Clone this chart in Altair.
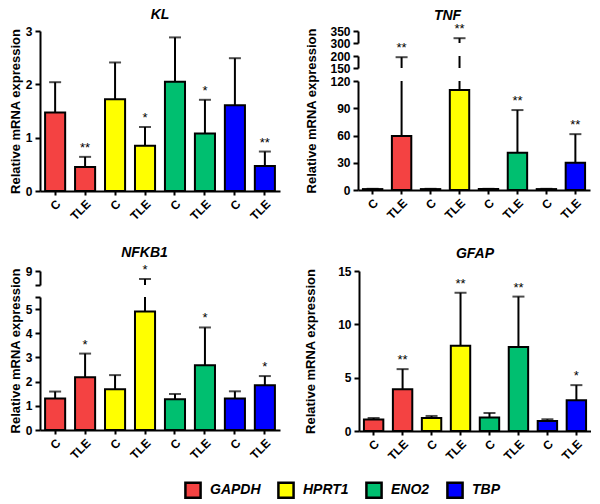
import altair as alt
import pandas as pd

# ---------------- data ----------------
genes = ["GAPDH", "HPRT1", "ENO2", "TBP"]
groups = ["C", "TLE"]
gene_colors = ["#F44242", "#FFFF00", "#00BF70", "#0000FF"]

kl_mean = [1.47, 0.45, 1.72, 0.85, 2.05, 1.08, 1.61, 0.47]
kl_upper = [2.04, 0.64, 2.41, 1.20, 2.88, 1.71, 2.49, 0.74]
kl_sig = ["", "**", "", "*", "", "*", "", "**"]

tnf_mean = [1.0, 59.5, 1.0, 110.0, 1.0, 41.0, 1.0, 30.0]
tnf_upper = [1.3, 195.0, 1.3, 320.0, 1.3, 88.0, 1.3, 61.5]
tnf_sig = ["", "**", "", "**", "", "**", "", "**"]

nfkb1_mean = [1.30, 2.18, 1.69, 4.90, 1.27, 2.68, 1.30, 1.85]
nfkb1_upper = [1.59, 3.16, 2.27, 8.43, 1.49, 4.24, 1.60, 2.23]
nfkb1_sig = ["", "*", "", "*", "", "*", "", "*"]

gfap_mean = [1.07, 3.92, 1.22, 8.00, 1.26, 7.88, 0.94, 2.89]
gfap_upper = [1.22, 5.80, 1.41, 12.96, 1.69, 12.60, 1.10, 4.30]
gfap_sig = ["", "**", "", "**", "", "**", "", "*"]

keys = [f"{g} {grp}" for g in genes for grp in groups]

FONT = "Liberation Sans"
Y_TITLE = "Relative mRNA expression"
LEFT_W = 240
RIGHT_W = 232


def make_df(mean, upper, sig):
    rows = []
    i = 0
    for g in genes:
        for grp in groups:
            rows.append({"key": f"{g} {grp}", "gene": g, "group": grp,
                         "mean": mean[i], "upper": upper[i], "sig": sig[i]})
            i += 1
    return pd.DataFrame(rows)


color_enc = alt.Color(
    "gene:N",
    scale=alt.Scale(domain=genes, range=gene_colors),
    legend=alt.Legend(
        orient="none", legendX=144, legendY=450, direction="horizontal",
        title=None, symbolType="square", symbolSize=230,
        symbolStrokeColor="black", symbolStrokeWidth=2.5, symbolOpacity=1,
        labelFont=FONT, labelFontSize=14, labelFontStyle="italic",
        labelFontWeight="bold", labelColor="black", labelOffset=8,
        columnPadding=12,
    ),
)


def segment(df, lo, hi, h, w, tick_vals, label_expr, show_x, title_x, title_y):
    if show_x:
        x_axis = alt.Axis(labelExpr="split(datum.label, ' ')[1]", labelAngle=-45,
                          title=None, tickSize=4, labelPadding=3)
    else:
        x_axis = None
    x = alt.X("key:N", sort=keys,
              scale=alt.Scale(domain=keys, paddingInner=0.33, paddingOuter=0.17),
              axis=x_axis)
    yscale = alt.Scale(domain=[lo, hi], nice=False, zero=False)
    axis_kw = dict(values=tick_vals, labelExpr=label_expr, tickSize=5, format=".0f",
                   labelPadding=3, labelOverlap=False)
    if title_x is not None:
        axis_kw["title"] = Y_TITLE
        axis_kw["titleX"] = title_x
        axis_kw["titleBaseline"] = "middle"
        axis_kw["titleAlign"] = "center"
        axis_kw["titleAngle"] = 270
        if title_y is not None:
            axis_kw["titleY"] = title_y
    else:
        axis_kw["title"] = None
    y_axis = alt.Axis(**axis_kw)

    base = alt.Chart(df)
    bars = base.mark_bar(stroke="black", strokeWidth=2, clip=True).encode(
        x=x,
        y=alt.Y("mean:Q", scale=yscale, axis=y_axis),
        y2=alt.datum(0),
        color=color_enc,
    )
    err = base.mark_rule(color="black", strokeWidth=2, clip=True).encode(
        x=x, y=alt.Y("mean:Q", scale=yscale, axis=y_axis), y2="upper:Q"
    )
    inside = f"datum.upper >= {lo} && datum.upper <= {hi}"
    cap = base.transform_filter(inside).mark_tick(
        color="black", thickness=2, size=12, clip=True
    ).encode(x=x, y=alt.Y("upper:Q", scale=yscale, axis=y_axis))
    stars = base.transform_filter(inside).mark_text(
        baseline="bottom", dy=-2, fontSize=13, font=FONT, color="black"
    ).encode(x=x, y=alt.Y("upper:Q", scale=yscale, axis=y_axis), text="sig:N")
    return alt.layer(bars, err, cap, stars).properties(width=w, height=h)


def title(text, offset):
    return alt.Title(text, font=FONT, fontSize=14, fontStyle="italic",
                     fontWeight="bold", color="black", offset=offset, anchor="middle")


kl_df = make_df(kl_mean, kl_upper, kl_sig)
tnf_df = make_df(tnf_mean, tnf_upper, tnf_sig)
nfkb1_df = make_df(nfkb1_mean, nfkb1_upper, nfkb1_sig)
gfap_df = make_df(gfap_mean, gfap_upper, gfap_sig)

kl = segment(kl_df, 0, 3, 160, LEFT_W, [0, 1, 2, 3], "datum.label", True,
             -25, None).properties(title=title("KL", 0))

tnf = alt.vconcat(
    segment(tnf_df, 300, 350, 12, RIGHT_W, [300, 350], "datum.label", False, None, None),
    segment(tnf_df, 150, 200, 12, RIGHT_W, [150, 200], "datum.label", False, None, None),
    segment(tnf_df, 0, 120, 109, RIGHT_W, [0, 30, 60, 90, 120], "datum.label", True,
            -47, 29.5),
    spacing=13, title=title("TNF", 0), bounds="flush",
)

nfkb1 = alt.vconcat(
    segment(nfkb1_df, 8, 9, 14, LEFT_W, [8, 9], "datum.value == 8 ? '' : datum.label",
            False, None, None),
    segment(nfkb1_df, 0, 5.5, 133, LEFT_W, [0, 1, 2, 3, 4, 5, 5.5],
            "datum.value == 5.5 ? '' : datum.label", True, -25, 53.5),
    spacing=12, title=title("NFKB1", 4), bounds="flush",
)

gfap = segment(gfap_df, 0, 15, 160, RIGHT_W, [0, 5, 10, 15], "datum.label", True,
               -49, None).properties(title=title("GFAP", 4))

chart = alt.vconcat(
    alt.hconcat(kl, tnf, spacing=24),
    alt.hconcat(nfkb1, gfap, spacing=24),
    spacing=23,
).resolve_scale(color="shared").properties(
    padding={"left": 0, "top": 0, "right": 0, "bottom": 0}
).configure_view(strokeWidth=0).configure_axis(
    domainColor="black", domainWidth=2, tickColor="black", tickWidth=2,
    grid=False, labelFont=FONT, labelFontSize=12, labelFontWeight="bold",
    labelColor="black", titleFont=FONT, titleFontSize=13, titleFontWeight="bold",
    titleColor="black",
)

chart.save("out.html", embed_options={"renderer": "svg", "actions": False})
